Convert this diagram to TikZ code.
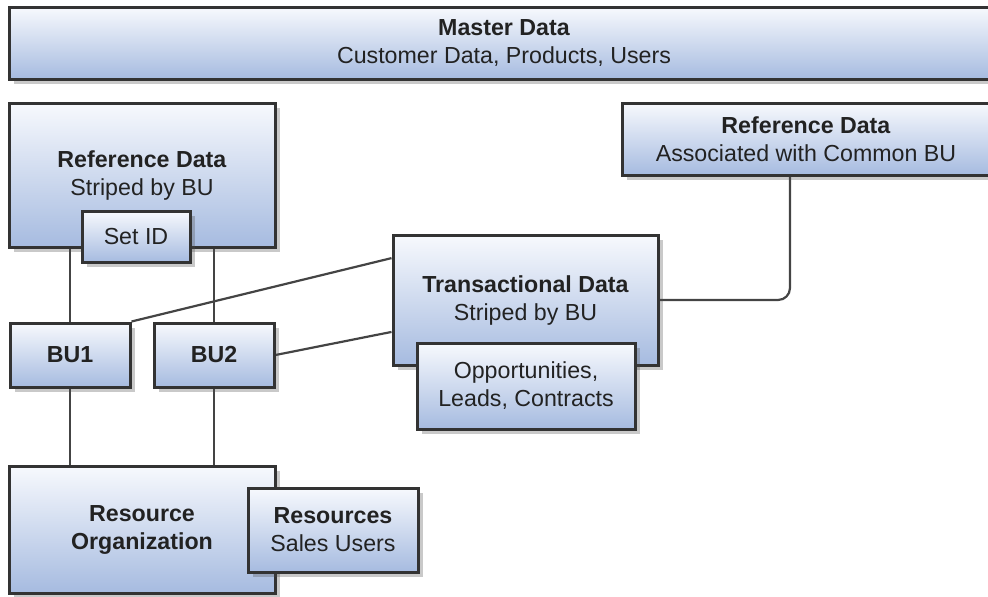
\documentclass[tikz,border=0pt]{standalone}
\usepackage{fontspec}
\setmainfont{Liberation Sans}
\definecolor{boxTop}{RGB}{247, 249, 253}
\definecolor{boxBottom}{RGB}{166, 187, 224}
\definecolor{edgeGray}{RGB}{51, 51, 51}
\definecolor{linkGray}{RGB}{68, 68, 68}
\definecolor{textDark}{RGB}{34, 34, 34}
\usepackage{tikz}
\usetikzlibrary{shapes,arrows,positioning,calc,backgrounds,fit,shadows}

\tikzset{
    databox/.style={rectangle, draw=edgeGray, line width=1.5pt, inner sep=0pt,
        top color=boxTop, bottom color=boxBottom, align=center,
        text=textDark, font=\fontsize{11.6}{14}\selectfont,
        drop shadow={shadow xshift=2.5pt, shadow yshift=-2.5pt, opacity=0.3, fill=black!70}},
    link/.style={draw=linkGray, line width=1.1pt}
}

\begin{document}
\begin{tikzpicture}[x=0.5pt,y=-0.5pt]
    \clip (0,0) rectangle (988,596);
    \useasboundingbox (0,0) rectangle (988,596);

    % master data band across the top
    \node[databox, minimum width=495pt, minimum height=36pt] (master) at (504,43)
        {\textbf{Master Data}\\Customer Data, Products, Users};

    % reference data, striped and common
    \node[databox, minimum width=133pt, minimum height=72pt] (refL) at (142,175)
        {\textbf{Reference Data}\\Striped by BU};
    \node[databox, minimum width=54pt, minimum height=25.5pt] (setid) at (136,236.5)
        {Set ID};
    \node[databox, minimum width=184pt, minimum height=36pt] (refR) at (806,139)
        {\textbf{Reference Data}\\Associated with Common BU};

    % business units
    \node[databox, minimum width=60pt, minimum height=32pt] (bua) at (70,355)
        {\textbf{BU1}};
    \node[databox, minimum width=60pt, minimum height=32pt] (bub) at (214,355)
        {\textbf{BU2}};

    % transactional data
    \node[databox, minimum width=132.5pt, minimum height=65pt] (trans) at (525.5,300)
        {\textbf{Transactional Data}\\Striped by BU};
    \node[databox, minimum width=109pt, minimum height=43pt] (opps) at (526,386)
        {Opportunities,\\Leads, Contracts};

    % resources
    \node[databox, minimum width=133pt, minimum height=63.5pt] (resorg) at (142,529.5)
        {\textbf{Resource}\\\textbf{Organization}};
    \node[databox, minimum width=85pt, minimum height=42pt] (res) at (333,530)
        {\textbf{Resources}\\Sales Users};

    % connectors
    \begin{scope}[on background layer]
        \draw[link] (bua.north) -- (bua.north |- refL.south);
        \draw[link] (bub.north) -- (bub.north |- refL.south);
        \draw[link] (bua.south) -- (bua.south |- resorg.north);
        \draw[link] (bub.south) -- (bub.south |- resorg.north);
        \draw[link] (bua.north east) -- ($(trans.north west)!0.185!(trans.south west)$);
        \draw[link] (bub.east) -- ($(trans.north west)!0.74!(trans.south west)$);
        \draw[link, rounded corners=6pt] ([xshift=-8pt]refR.south) |- (trans.east);
    \end{scope}
\end{tikzpicture}
\end{document}
